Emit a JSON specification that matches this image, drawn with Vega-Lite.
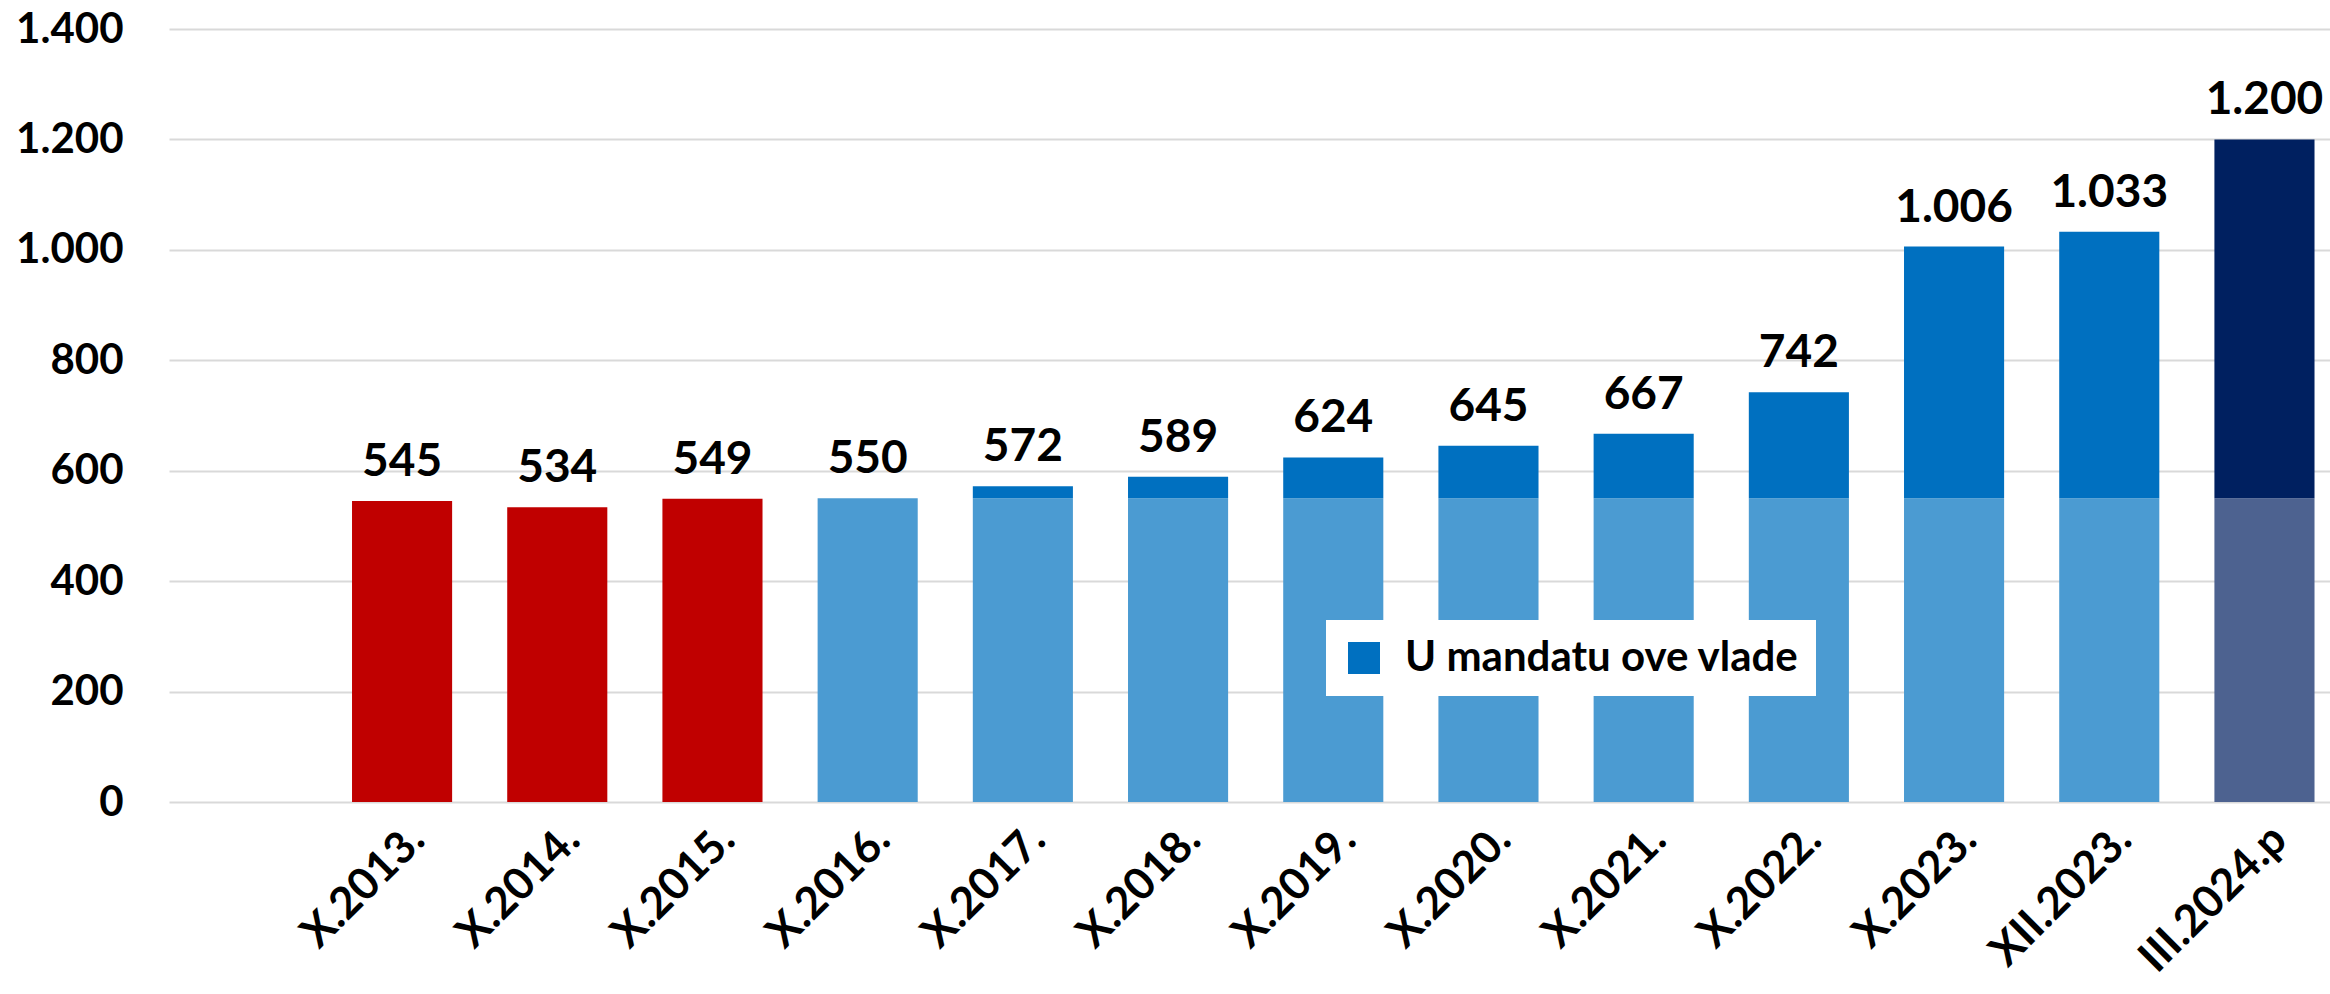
{
  "$schema": "https://vega.github.io/schema/vega-lite/v6.json",
  "width": 2161,
  "height": 773,
  "autosize": {"type": "none"},
  "padding": {"left": 169, "top": 29, "right": 0, "bottom": 192},
  "background": "white",
  "config": {
    "view": {"stroke": null},
    "font": "Lato",
    "locale": {"number": {"decimal": ",", "thousands": ".", "grouping": [3], "currency": ["", ""]}}
  },
  "datasets": {
    "bars": [
      {"period": "X.2013.", "lo": 0, "hi": 545, "kat": "prije"},
      {"period": "X.2014.", "lo": 0, "hi": 534, "kat": "prije"},
      {"period": "X.2015.", "lo": 0, "hi": 549, "kat": "prije"},
      {"period": "X.2016.", "lo": 0, "hi": 550, "kat": "osnovica"},
      {"period": "X.2017.", "lo": 0, "hi": 550, "kat": "osnovica"},
      {"period": "X.2017.", "lo": 550, "hi": 572, "kat": "U mandatu ove vlade"},
      {"period": "X.2018.", "lo": 0, "hi": 550, "kat": "osnovica"},
      {"period": "X.2018.", "lo": 550, "hi": 589, "kat": "U mandatu ove vlade"},
      {"period": "X.2019.", "lo": 0, "hi": 550, "kat": "osnovica"},
      {"period": "X.2019.", "lo": 550, "hi": 624, "kat": "U mandatu ove vlade"},
      {"period": "X.2020.", "lo": 0, "hi": 550, "kat": "osnovica"},
      {"period": "X.2020.", "lo": 550, "hi": 645, "kat": "U mandatu ove vlade"},
      {"period": "X.2021.", "lo": 0, "hi": 550, "kat": "osnovica"},
      {"period": "X.2021.", "lo": 550, "hi": 667, "kat": "U mandatu ove vlade"},
      {"period": "X.2022.", "lo": 0, "hi": 550, "kat": "osnovica"},
      {"period": "X.2022.", "lo": 550, "hi": 742, "kat": "U mandatu ove vlade"},
      {"period": "X.2023.", "lo": 0, "hi": 550, "kat": "osnovica"},
      {"period": "X.2023.", "lo": 550, "hi": 1006, "kat": "U mandatu ove vlade"},
      {"period": "XII.2023.", "lo": 0, "hi": 550, "kat": "osnovica"},
      {"period": "XII.2023.", "lo": 550, "hi": 1033, "kat": "U mandatu ove vlade"},
      {"period": "III.2024.p", "lo": 0, "hi": 550, "kat": "projekcija osnovica"},
      {"period": "III.2024.p", "lo": 550, "hi": 1200, "kat": "projekcija"}
    ],
    "totals": [
      {"period": "X.2013.", "total": 545},
      {"period": "X.2014.", "total": 534},
      {"period": "X.2015.", "total": 549},
      {"period": "X.2016.", "total": 550},
      {"period": "X.2017.", "total": 572},
      {"period": "X.2018.", "total": 589},
      {"period": "X.2019.", "total": 624},
      {"period": "X.2020.", "total": 645},
      {"period": "X.2021.", "total": 667},
      {"period": "X.2022.", "total": 742},
      {"period": "X.2023.", "total": 1006},
      {"period": "XII.2023.", "total": 1033},
      {"period": "III.2024.p", "total": 1200}
    ]
  },
  "encoding": {
    "x": {
      "field": "period",
      "type": "nominal",
      "sort": null,
      "scale": {"paddingInner": 0.355, "paddingOuter": 0.6395, "align": 0.922},
      "axis": {
        "title": null,
        "domain": false,
        "ticks": false,
        "labelAngle": -45,
        "labelFont": "Lato",
        "labelFontWeight": "bold",
        "labelFontSize": 44,
        "labelColor": "black",
        "labelPadding": 15,
        "labelLimit": 0
      }
    }
  },
  "layer": [
    {
      "data": {"name": "bars"},
      "mark": {"type": "bar"},
      "encoding": {
        "y": {
          "field": "lo",
          "type": "quantitative",
          "scale": {"domain": [0, 1400], "nice": false},
          "axis": {
            "title": null,
            "values": [0, 200, 400, 600, 800, 1000, 1200, 1400],
            "format": ",d",
            "domain": false,
            "ticks": false,
            "grid": true,
            "gridColor": "#D9D9D9",
            "gridWidth": 2,
            "labelFont": "Lato",
            "labelFontWeight": "bold",
            "labelFontSize": 42,
            "labelColor": "black",
            "labelPadding": 46
          }
        },
        "y2": {"field": "hi"},
        "color": {
          "field": "kat",
          "type": "nominal",
          "scale": {
            "domain": ["prije", "osnovica", "U mandatu ove vlade", "projekcija osnovica", "projekcija"],
            "range": ["#C00000", "#4B9BD2", "#0070C0", "#4D6290", "#002060"]
          },
          "legend": {
            "values": ["U mandatu ove vlade"],
            "title": null,
            "orient": "none",
            "legendX": 1157,
            "legendY": 591,
            "fillColor": "white",
            "padding": 17,
            "symbolType": "square",
            "symbolSize": 1024,
            "symbolStrokeWidth": 0,
            "labelFont": "Lato",
            "labelFontWeight": "bold",
            "labelFontSize": 42,
            "labelColor": "black",
            "labelOffset": 20,
            "labelLimit": 0
          }
        }
      }
    },
    {
      "data": {"name": "totals"},
      "mark": {"type": "text", "baseline": "alphabetic", "dy": -25, "font": "Lato", "fontWeight": "bold", "fontSize": 46, "color": "black"},
      "encoding": {
        "y": {"field": "total", "type": "quantitative"},
        "text": {"field": "total", "type": "quantitative", "format": ",d"}
      }
    }
  ]
}
